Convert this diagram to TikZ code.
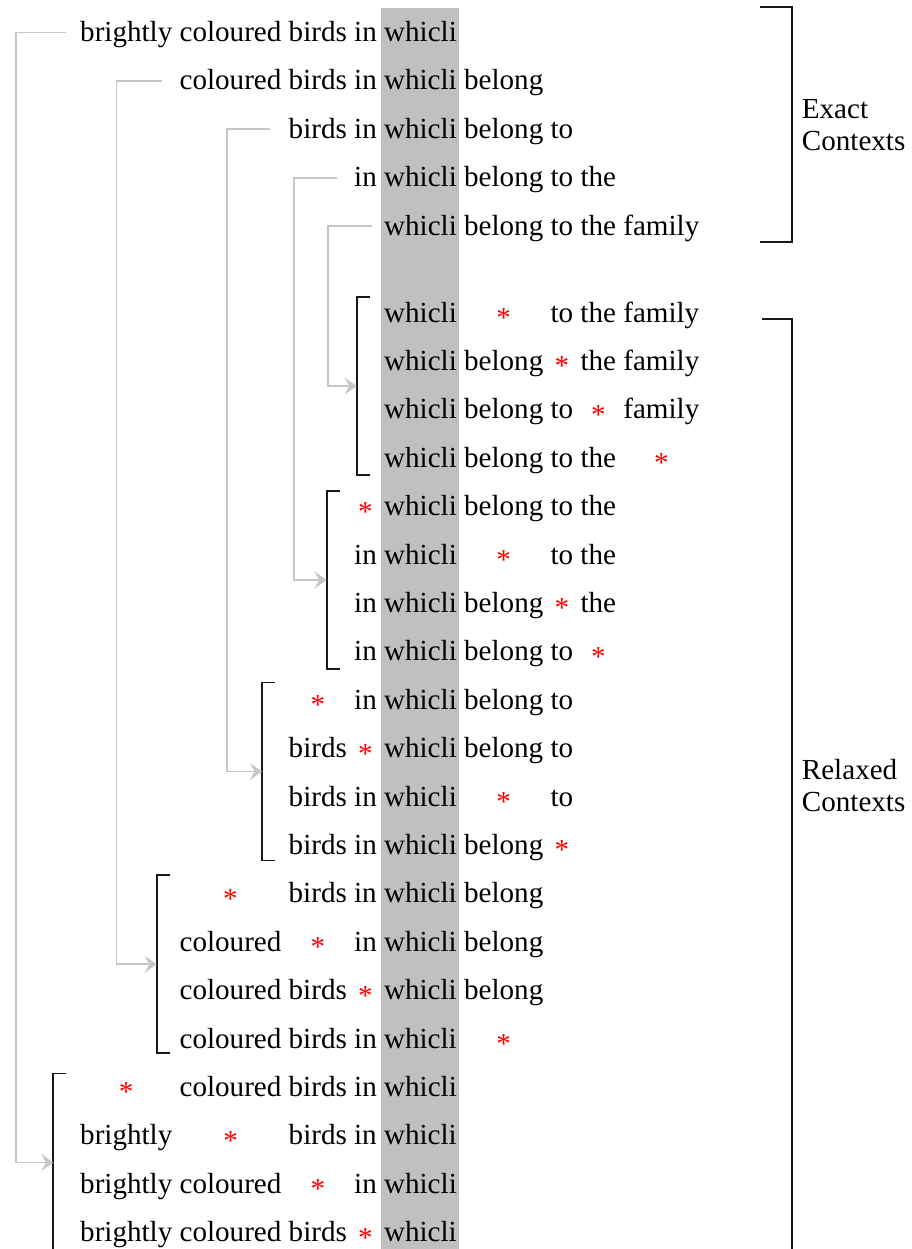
\documentclass[tikz,border=0pt]{standalone}
\usepackage{fontspec}
\setmainfont{Liberation Serif}
\usetikzlibrary{arrows.meta,calc}
\definecolor{colgray}{HTML}{C0C0C0}
\definecolor{lineGray}{HTML}{C6C6C6}
\definecolor{starred}{HTML}{FF0000}
\newsavebox\rsbox
\newcommand\rs[1]{\sbox\rsbox{#1}\makebox[\wd\rsbox][c]{\raisebox{-5.5pt}{\textcolor{starred}{*}}}}
\begin{document}
\begin{tikzpicture}[x=1pt,y=-1pt,
  txt/.style={anchor=base west, inner sep=0pt, font=\fontsize{29.1}{32}\selectfont},
  lbl/.style={anchor=west, inner sep=0pt, align=left, font=\fontsize{29.1}{32}\selectfont},
  conn/.style={draw=lineGray, line width=1.8pt, -{Stealth[length=12pt,width=17pt,inset=4.5pt]}},
  brk/.style={draw=black!90, line width=1.8pt}]
\useasboundingbox (0,0) rectangle (911,1249);
\fill[colgray] (381,8) rectangle (459,1249);

% exact contexts
\node[txt] (e1) at (80,41.5) {brightly coloured birds in whicli};
\node[txt] (e2) at (179.4,89.9) {coloured birds in whicli belong};
\node[txt] (e3) at (288.5,138.3) {birds in whicli belong to};
\node[txt] (e4) at (354,186.7) {in whicli belong to the};
\node[txt] (e5) at (383.9,235.1) {whicli belong to the family};

% group A
\node[txt] (a1) at (383.9,322) {whicli \rs{belong} to the family};
\node[txt] (a2) at (383.9,370.4) {whicli belong \rs{to} the family};
\node[txt] (a3) at (383.9,418.8) {whicli belong to \rs{the} family};
\node[txt] (a4) at (383.9,467.2) {whicli belong to the \rs{family}};
% group B
\node[txt] (b1) at (354,515.6) {\rs{in} whicli belong to the};
\node[txt] (b2) at (354,564) {in whicli \rs{belong} to the};
\node[txt] (b3) at (354,612.4) {in whicli belong \rs{to} the};
\node[txt] (b4) at (354,660.8) {in whicli belong to \rs{the}};
% group C
\node[txt] (c1) at (288.5,709.2) {\rs{birds} in whicli belong to};
\node[txt] (c2) at (288.5,757.6) {birds \rs{in} whicli belong to};
\node[txt] (c3) at (288.5,806) {birds in whicli \rs{belong} to};
\node[txt] (c4) at (288.5,854.4) {birds in whicli belong \rs{to}};
% group D
\node[txt] (d1) at (179.4,902.8) {\rs{coloured} birds in whicli belong};
\node[txt] (d2) at (179.4,951.2) {coloured \rs{birds} in whicli belong};
\node[txt] (d3) at (179.4,999.6) {coloured birds \rs{in} whicli belong};
\node[txt] (d4) at (179.4,1048) {coloured birds in whicli \rs{belong}};
% group E
\node[txt] (f1) at (80,1096.4) {\rs{brightly} coloured birds in whicli};
\node[txt] (f2) at (80,1144.8) {brightly \rs{coloured} birds in whicli};
\node[txt] (f3) at (80,1193.2) {brightly coloured \rs{birds} in whicli};
\node[txt] (f4) at (80,1241.6) {brightly coloured birds \rs{in} whicli};

% group bracket midpoints
\coordinate (gA) at (356.7,386);
\coordinate (gB) at (326.7,580);
\coordinate (gC) at (262,771.5);
\coordinate (gD) at (156.7,964.3);
\coordinate (gE) at (53.3,1162.5);

\foreach \g in {gA,gB,gC,gD}{
  \draw[brk] ($(\g)+(12.8,-89)$) -- ++(-12.8,0) -- ++(0,178) -- ++(12.8,0);
}
\draw[brk] ($(gE)+(12.8,-89)$) -- ++(-12.8,0) -- (53.3,1249);

% connector start points
\coordinate (s1) at (65.7,32.5);
\coordinate (s2) at (162,80.9);
\coordinate (s3) at (270,129.3);
\coordinate (s4) at (337,177.7);
\coordinate (s5) at (372,226.1);

\draw[conn] (s1) -- ++(-49.7,0) |- (gE);
\draw[conn] (s2) -- ++(-45.6,0) |- (gD);
\draw[conn] (s3) -- ++(-43,0) |- (gC);
\draw[conn] (s4) -- ++(-43,0) |- (gB);
\draw[conn] (s5) -- ++(-44,0) |- (gA);

% context brackets
\coordinate (xt) at (760,7.3);
\coordinate (xb) at (760,242.3);
\draw[brk] (xt) -- ++(31.7,0) |- (xb);
\node[lbl] (exact) at (801.7,124.8) {Exact\\Contexts};

\coordinate (rt) at (762,319);
\draw[brk] (rt) -- ++(29.7,0) -- ++(0,930);
\node[lbl] (relaxed) at (801.7,786) {Relaxed\\Contexts};
\end{tikzpicture}
\end{document}
